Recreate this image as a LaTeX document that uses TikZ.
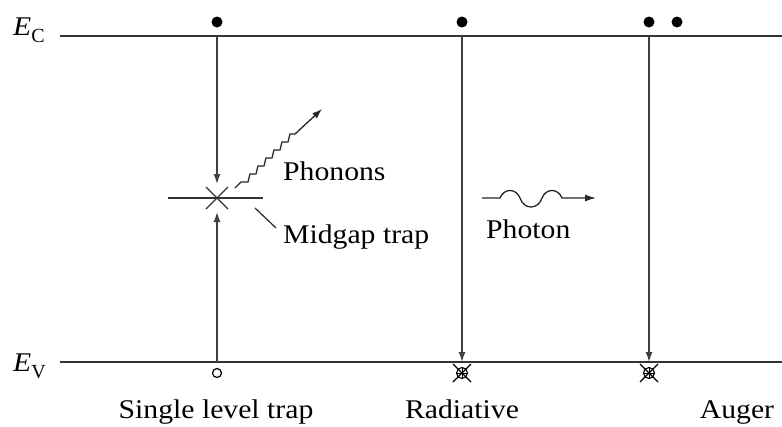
\documentclass[tikz,border=0pt]{standalone}
\usepackage{fontspec}
\setmainfont{Liberation Serif}
\usepackage{graphicx}
\usetikzlibrary{arrows.meta}
\newcommand{\wlbl}[1]{\scalebox{1.1}[1]{#1}}
\begin{document}
\begin{tikzpicture}[x=1pt,y=-1pt,
  level/.style={line width=1.8pt, draw=black!80},
  trans/.style={line width=1.4pt, draw=black!75, -{Latex[length=10pt,width=7pt]}},
  thin line/.style={line width=1.4pt, draw=black!80},
  lbl/.style={font=\fontsize{27}{30}\selectfont, inner sep=0pt},
  carrier/.style={circle, fill=black, minimum size=11pt, inner sep=0pt},
  hole/.style={circle, draw=black, line width=1.2pt, fill=white, minimum size=9pt, inner sep=0pt},
  photonmark/.style={circle, draw=black, line width=1.1pt, minimum size=11pt, inner sep=0pt}]
\useasboundingbox (0,0) rectangle (782,426);

% band edges
\coordinate (ecL) at (60,36);
\coordinate (ecR) at (782,36);
\coordinate (evL) at (60,362);
\coordinate (evR) at (782,362);
\draw[level] (ecL) -- (ecR);
\draw[level] (evL) -- (evR);
\node[lbl, anchor=base west] (EC) at (13,35) {\wlbl{\textit{E}}\raisebox{-7pt}{\fontsize{20}{22}\selectfont C}};
\node[lbl, anchor=base west] (EV) at (13,371) {\wlbl{\textit{E}}\raisebox{-7pt}{\fontsize{20}{22}\selectfont V}};

% ---- single level trap ----
\node[carrier] (e1) at (217,22) {};
\coordinate (c1top) at (217,36);
\coordinate (c1bot) at (217,362);
\coordinate (trap) at (217,198);
\coordinate (t1a) at (217,184);
\coordinate (t1b) at (217,212);
\draw[trans] (c1top) -- (t1a);
\draw[trans] (c1bot) -- (t1b);
\node[hole] (h1) at (217,373) {};
\coordinate (trapL) at (168,198);
\coordinate (trapR) at (263,198);
\draw[thin line] (trapL) -- (trapR);
\draw[thin line] ([shift={(-11,-11)}]trap) -- ([shift={(11,11)}]trap);
\draw[thin line] ([shift={(-11,11)}]trap) -- ([shift={(11,-11)}]trap);
% phonons
\coordinate (ph0) at (235,188);
\coordinate (ph1) at (322,109);
\draw[line width=1.3pt, draw=black!85, -{Latex[length=10pt,width=7pt]}]
  (ph0) -- ++(6,-6) -- ++(7,0)
  -- ++(2,-8) -- ++(6,0)
  -- ++(2,-8) -- ++(6,0)
  -- ++(2,-8) -- ++(6,0)
  -- ++(2,-8) -- ++(6,0)
  -- ++(2,-8) -- ++(6,0)
  -- ++(2,-8) -- ++(5,0)
  -- (ph1);
\node[lbl, anchor=base west] (phon) at (283,180) {\wlbl{Phonons}};
% midgap trap leader
\coordinate (m0) at (255,208);
\coordinate (m1) at (276,228);
\draw[line width=1.3pt, draw=black!80] (m0) -- (m1);
\node[lbl, anchor=base west] (mid) at (283,243) {\wlbl{Midgap trap}};
\node[lbl, anchor=base] (L1) at (216,418) {\wlbl{Single level trap}};

% ---- radiative ----
\node[carrier] (e2) at (462,22) {};
\coordinate (c2top) at (462,36);
\coordinate (c2bot) at (462,362);
\draw[trans] (c2top) -- (c2bot);
\node[photonmark] (s2) at (462,373) {};
\draw[line width=1.1pt] ([shift={(-9,-9)}]s2.center) -- ([shift={(9,9)}]s2.center);
\draw[line width=1.1pt] ([shift={(-9,9)}]s2.center) -- ([shift={(9,-9)}]s2.center);
\draw[line width=0.8pt] ([shift={(-5,0)}]s2.center) -- ([shift={(5,0)}]s2.center);
\draw[line width=0.8pt] ([shift={(0,-5)}]s2.center) -- ([shift={(0,5)}]s2.center);
% photon
\coordinate (pw0) at (482,198);
\coordinate (pw1) at (596,198);
\draw[line width=1.3pt, draw=black!85, -{Latex[length=11pt,width=7pt]}]
  (pw0) -- (500,198)
  .. controls (504,188) and (516,188) .. (520,198)
  .. controls (524,210) and (538,210) .. (542,198)
  .. controls (546,188) and (558,188) .. (562,198)
  -- (pw1);
\node[lbl, anchor=base west] (phot) at (486,238) {\wlbl{Photon}};
\node[lbl, anchor=base] (L2) at (462,418) {\wlbl{Radiative}};

% ---- Auger ----
\node[carrier] (e3) at (649,22) {};
\node[carrier] (e4) at (677,22) {};
\coordinate (c3top) at (649,36);
\coordinate (c3bot) at (649,362);
\draw[trans] (c3top) -- (c3bot);
\node[photonmark] (s3) at (649,373) {};
\draw[line width=1.1pt] ([shift={(-9,-9)}]s3.center) -- ([shift={(9,9)}]s3.center);
\draw[line width=1.1pt] ([shift={(-9,9)}]s3.center) -- ([shift={(9,-9)}]s3.center);
\draw[line width=0.8pt] ([shift={(-5,0)}]s3.center) -- ([shift={(5,0)}]s3.center);
\draw[line width=0.8pt] ([shift={(0,-5)}]s3.center) -- ([shift={(0,5)}]s3.center);
\node[lbl, anchor=base] (L3) at (737,418) {\wlbl{Auger}};
\end{tikzpicture}
\end{document}
